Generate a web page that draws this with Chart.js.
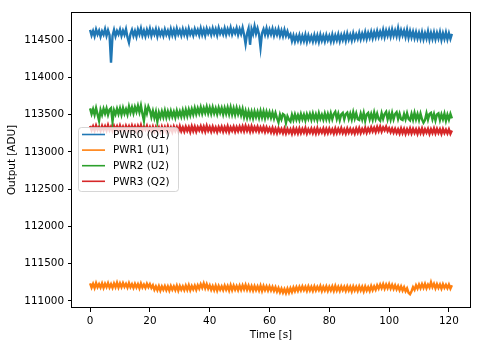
<!DOCTYPE html>
<html>
<head>
<meta charset="utf-8">
<script src="https://cdn.jsdelivr.net/npm/chart.js@4.4.0/dist/chart.umd.min.js"></script>
<style>
  html, body { margin: 0; padding: 0; background: #fff; }
  #wrap { width: 480px; height: 347px; }
</style>
</head>
<body>
<div id="wrap"><canvas id="outputChart" width="480" height="347"></canvas></div>
<script>
// sampling: one value every half second, from 0 to 121 s
var sampleStep = 0.5;

var seriesNames = ['PWR0 (Q1)', 'PWR1 (U1)', 'PWR2 (U2)', 'PWR3 (Q2)'];
var seriesColors = ['#1f77b4', '#ff7f0e', '#2ca02c', '#d62728'];

var pwr0 = [
  114640, 114565, 114625, 114555, 114645, 114580, 114630, 114550, 114620, 114575,
  114650, 114560, 114635, 114570, 114200, 114560, 114640, 114555, 114625, 114580,
  114645, 114560, 114630, 114575, 114650, 114540, 114470, 114585, 114640, 114560,
  114625, 114550, 114645, 114580, 114660, 114565, 114630, 114555, 114640, 114575,
  114655, 114560, 114635, 114580, 114650, 114555, 114640, 114570, 114625, 114560,
  114645, 114575, 114630, 114555, 114650, 114570, 114640, 114560, 114655, 114580,
  114635, 114565, 114650, 114575, 114640, 114560, 114655, 114580, 114630, 114565,
  114650, 114585, 114640, 114570, 114660, 114575, 114645, 114565, 114655, 114590,
  114645, 114575, 114660, 114585, 114650, 114570, 114665, 114590, 114640, 114580,
  114660, 114575, 114650, 114590, 114670, 114580, 114645, 114595, 114665, 114575,
  114650, 114585, 114670, 114575, 114450, 114590, 114660, 114440, 114650, 114585,
  114690, 114590, 114660, 114580, 114400, 114595, 114650, 114575, 114660, 114570,
  114645, 114580, 114655, 114565, 114640, 114575, 114650, 114560, 114630, 114555,
  114640, 114560, 114620, 114545, 114580, 114490, 114565, 114485, 114560, 114495,
  114570, 114485, 114560, 114490, 114575, 114480, 114565, 114495, 114555, 114485,
  114570, 114490, 114565, 114480, 114575, 114495, 114560, 114485, 114570, 114500,
  114560, 114485, 114575, 114490, 114565, 114500, 114580, 114490, 114570, 114505,
  114580, 114495, 114590, 114510, 114575, 114500, 114595, 114515, 114580, 114520,
  114600, 114515, 114590, 114525, 114610, 114520, 114600, 114535, 114615, 114530,
  114610, 114540, 114625, 114545, 114615, 114550, 114640, 114545, 114630, 114560,
  114635, 114550, 114645, 114560, 114630, 114555, 114660, 114550, 114635, 114565,
  114630, 114545, 114640, 114535, 114625, 114540, 114615, 114530, 114610, 114525,
  114600, 114520, 114610, 114515, 114595, 114525, 114620, 114510, 114600, 114520,
  114605, 114515, 114600, 114525, 114610, 114505, 114595, 114520, 114605, 114515,
  114595, 114520, 114585
];

var pwr1 = [
  111235, 111180, 111230, 111175, 111240, 111185, 111225, 111180, 111235, 111175,
  111230, 111185, 111240, 111180, 111225, 111175, 111235, 111185, 111245, 111180,
  111235, 111185, 111240, 111190, 111230, 111180, 111240, 111185, 111225, 111175,
  111230, 111180, 111225, 111170, 111235, 111180, 111220, 111175, 111230, 111185,
  111225, 111175, 111210, 111150, 111195, 111145, 111200, 111140, 111195, 111150,
  111200, 111145, 111195, 111140, 111200, 111150, 111195, 111145, 111205, 111140,
  111200, 111150, 111195, 111145, 111205, 111150, 111210, 111145, 111200, 111155,
  111205, 111150, 111210, 111165, 111225, 111175, 111235, 111170, 111225, 111165,
  111210, 111150, 111200, 111145, 111205, 111140, 111200, 111150, 111195, 111145,
  111205, 111150, 111200, 111140, 111210, 111145, 111205, 111150, 111200, 111145,
  111205, 111150, 111210, 111155, 111215, 111150, 111205, 111145, 111200, 111140,
  111200, 111145, 111195, 111140, 111205, 111135, 111200, 111145, 111195, 111140,
  111195, 111140, 111190, 111135, 111185, 111125, 111175, 111115, 111165, 111110,
  111160, 111105, 111165, 111110, 111170, 111120, 111180, 111130, 111185, 111135,
  111190, 111140, 111195, 111145, 111190, 111135, 111195, 111140, 111190, 111135,
  111195, 111140, 111190, 111145, 111200, 111135, 111190, 111140, 111195, 111135,
  111190, 111140, 111195, 111135, 111200, 111140, 111190, 111135, 111195, 111145,
  111190, 111135, 111195, 111140, 111190, 111130, 111195, 111140, 111190, 111135,
  111195, 111140, 111190, 111130, 111195, 111140, 111185, 111135, 111200, 111145,
  111195, 111150, 111210, 111165, 111220, 111170, 111225, 111165, 111220, 111170,
  111225, 111165, 111215, 111160, 111210, 111155, 111200, 111145, 111195, 111140,
  111185, 111130, 111170, 111110, 111090, 111130, 111185, 111150, 111210, 111165,
  111220, 111170, 111225, 111175, 111230, 111170, 111220, 111180, 111250, 111185,
  111230, 111170, 111225, 111175, 111220, 111165, 111225, 111175, 111215, 111170,
  111220, 111165, 111210
];

var pwr2 = [
  113585, 113510, 113575, 113500, 113590, 113505, 113420, 113565, 113500, 113580,
  113515, 113585, 113500, 113570, 113590, 113410, 113560, 113505, 113580, 113510,
  113585, 113500, 113590, 113515, 113575, 113505, 113610, 113530, 113600, 113520,
  113605, 113540, 113620, 113535, 113625, 113515, 113420, 113590, 113520, 113610,
  113560, 113470, 113550, 113460, 113540, 113410, 113530, 113465, 113545, 113470,
  113555, 113465, 113545, 113470, 113550, 113475, 113540, 113465, 113555, 113480,
  113545, 113475, 113560, 113480, 113565, 113485, 113570, 113495, 113575, 113505,
  113590, 113510, 113585, 113520, 113600, 113515, 113590, 113525, 113605, 113520,
  113595, 113515, 113600, 113520, 113585, 113510, 113595, 113525, 113590, 113505,
  113590, 113515, 113595, 113510, 113600, 113505, 113585, 113500, 113590, 113510,
  113580, 113495, 113575, 113470, 113550, 113460, 113545, 113465, 113540, 113455,
  113545, 113470, 113540, 113460, 113550, 113465, 113545, 113455, 113540, 113470,
  113535, 113460, 113530, 113450, 113525, 113455, 113400, 113500, 113440, 113510,
  113495, 113390, 113480, 113435, 113410, 113500, 113430, 113505, 113435, 113495,
  113430, 113510, 113440, 113500, 113425, 113505, 113445, 113510, 113435, 113515,
  113440, 113505, 113430, 113520, 113445, 113500, 113435, 113515, 113440, 113510,
  113435, 113520, 113440, 113510, 113540, 113445, 113515, 113430, 113505, 113525,
  113440, 113510, 113530, 113445, 113515, 113440, 113535, 113450, 113520, 113440,
  113430, 113515, 113440, 113525, 113420, 113505, 113525, 113440, 113510, 113435,
  113530, 113445, 113515, 113440, 113420, 113520, 113445, 113510, 113540, 113440,
  113515, 113435, 113525, 113440, 113510, 113535, 113445, 113515, 113440, 113430,
  113510, 113440, 113520, 113445, 113425, 113510, 113435, 113525, 113440, 113510,
  113430, 113515, 113440, 113395, 113430, 113520, 113435, 113510, 113525, 113440,
  113510, 113425, 113505, 113520, 113430, 113505, 113440, 113515, 113420, 113500,
  113435, 113510, 113450
];

var pwr3 = [
  113350, 113295, 113345, 113290, 113355, 113300, 113340, 113285, 113350, 113295,
  113345, 113290, 113360, 113295, 113340, 113285, 113350, 113300, 113345, 113290,
  113355, 113295, 113340, 113285, 113350, 113300, 113345, 113290, 113355, 113295,
  113345, 113285, 113350, 113295, 113360, 113290, 113340, 113300, 113350, 113285,
  113335, 113280, 113340, 113275, 113335, 113285, 113330, 113270, 113340, 113280,
  113335, 113275, 113345, 113280, 113330, 113270, 113340, 113285, 113335, 113275,
  113345, 113280, 113330, 113275, 113340, 113285, 113335, 113270, 113345, 113280,
  113340, 113275, 113335, 113290, 113345, 113280, 113340, 113275, 113350, 113285,
  113335, 113275, 113340, 113280, 113330, 113270, 113335, 113285, 113340, 113275,
  113335, 113280, 113345, 113270, 113330, 113285, 113340, 113275, 113335, 113280,
  113340, 113285, 113345, 113280, 113350, 113285, 113340, 113275, 113345, 113280,
  113335, 113285, 113340, 113275, 113330, 113280, 113335, 113270, 113330, 113275,
  113320, 113265, 113325, 113260, 113315, 113255, 113320, 113265, 113310, 113255,
  113315, 113250, 113310, 113260, 113305, 113245, 113315, 113255, 113310, 113250,
  113315, 113255, 113310, 113260, 113320, 113250, 113305, 113260, 113315, 113255,
  113310, 113250, 113320, 113255, 113305, 113260, 113315, 113250, 113310, 113255,
  113315, 113260, 113305, 113250, 113315, 113255, 113310, 113260, 113320, 113255,
  113305, 113250, 113315, 113260, 113310, 113255, 113305, 113250, 113315, 113260,
  113320, 113255, 113310, 113265, 113325, 113260, 113315, 113270, 113330, 113275,
  113325, 113270, 113335, 113280, 113340, 113275, 113330, 113290, 113340, 113280,
  113320, 113265, 113315, 113260, 113310, 113255, 113305, 113250, 113315, 113255,
  113310, 113245, 113305, 113255, 113315, 113250, 113310, 113255, 113305, 113245,
  113310, 113255, 113315, 113250, 113305, 113260, 113310, 113245, 113305, 113255,
  113315, 113250, 113310, 113255, 113305, 113245, 113310, 113255, 113300, 113250,
  113305, 113245, 113290
];

var seriesValues = [pwr0, pwr1, pwr2, pwr3];

var xTicks = [0, 20, 40, 60, 80, 100, 120];
var yTicks = [111000, 111500, 112000, 112500, 113000, 113500, 114000, 114500];

var fontFamily = "'DejaVu Sans', sans-serif";
var fontSize = 10.4;

Chart.defaults.color = '#000';
Chart.defaults.font.family = fontFamily;
Chart.defaults.font.size = fontSize;

function toPoints(values) {
    return values.map(function (v, i) {
        return { x: i * sampleStep, y: v };
    });
}

// box round the plot, like the matplotlib axes frame
var frame = {
    id: 'frame',
    afterDraw: function (chart) {
        var a = chart.chartArea;
        var ctx = chart.ctx;
        ctx.save();
        ctx.strokeStyle = '#000';
        ctx.lineWidth = 1;
        ctx.strokeRect(Math.round(a.left) - 0.5, Math.round(a.top) + 0.5,
            Math.round(a.right - a.left) + 1, Math.round(a.bottom - a.top) - 1);
        ctx.restore();
    }
};

// legend drawn inside the axes, semi-transparent white box
var innerLegend = {
    id: 'innerLegend',
    afterDatasetsDraw: function (chart) {
        var ctx = chart.ctx;
        var bx = 78.5, by = 127.5, bw = 100, bh = 64, r = 3;
        ctx.save();
        ctx.beginPath();
        ctx.moveTo(bx + r, by);
        ctx.lineTo(bx + bw - r, by);
        ctx.arcTo(bx + bw, by, bx + bw, by + r, r);
        ctx.lineTo(bx + bw, by + bh - r);
        ctx.arcTo(bx + bw, by + bh, bx + bw - r, by + bh, r);
        ctx.lineTo(bx + r, by + bh);
        ctx.arcTo(bx, by + bh, bx, by + bh - r, r);
        ctx.lineTo(bx, by + r);
        ctx.arcTo(bx, by, bx + r, by, r);
        ctx.closePath();
        ctx.fillStyle = 'rgba(255,255,255,0.8)';
        ctx.fill();
        ctx.strokeStyle = 'rgba(204,204,204,0.8)';
        ctx.lineWidth = 1;
        ctx.stroke();

        ctx.font = fontSize + 'px ' + fontFamily;
        ctx.textBaseline = 'middle';
        ctx.textAlign = 'left';
        for (var i = 0; i < seriesNames.length; i++) {
            var ry = 134.5 + i * 15.6;
            ctx.strokeStyle = seriesColors[i];
            ctx.lineWidth = 1.6;
            ctx.beginPath();
            ctx.moveTo(82, ry);
            ctx.lineTo(105, ry);
            ctx.stroke();
            ctx.fillStyle = '#000';
            ctx.fillText(seriesNames[i], 113, ry + 0.5);
        }
        ctx.restore();
    }
};

var ctxOut = document.getElementById('outputChart').getContext('2d');
var chartOut = new Chart(ctxOut, {
    type: 'line',
    data: {
        datasets: seriesValues.map(function (vals, i) {
            return {
                label: seriesNames[i],
                data: toPoints(vals),
                borderColor: seriesColors[i],
                backgroundColor: seriesColors[i],
                borderWidth: 2.4,
                pointRadius: 0,
                tension: 0,
                fill: false
            };
        })
    },
    options: {
        responsive: false,
        animation: false,
        events: [],
        layout: { padding: { left: 0, right: 10, top: 12, bottom: 0 } },
        plugins: {
            legend: { display: false },
            tooltip: { enabled: false }
        },
        scales: {
            x: {
                type: 'linear',
                min: -6.05,
                max: 127.05,
                afterFit: function (scale) { scale.height = 39; },
                afterBuildTicks: function (scale) {
                    scale.ticks = xTicks.map(function (v) { return { value: v }; });
                },
                ticks: { padding: 3, maxRotation: 0, autoSkip: false, color: '#000' },
                grid: { drawOnChartArea: false, drawTicks: true, tickLength: 4, color: '#000', tickWidth: 1 },
                border: { display: false },
                title: { display: true, text: 'Time [s]', color: '#000', padding: { top: 0, bottom: 5 } }
            },
            y: {
                type: 'linear',
                min: 110905,
                max: 114880,
                afterFit: function (scale) { scale.width = 72; },
                afterBuildTicks: function (scale) {
                    scale.ticks = yTicks.map(function (v) { return { value: v }; });
                },
                ticks: {
                    padding: 4,
                    autoSkip: false,
                    color: '#000',
                    callback: function (v) { return String(v); }
                },
                grid: { drawOnChartArea: false, drawTicks: true, tickLength: 4, color: '#000', tickWidth: 1 },
                border: { display: false },
                title: { display: true, text: 'Output [ADU]', color: '#000', padding: { top: 6, bottom: 0 } }
            }
        }
    },
    plugins: [frame, innerLegend]
});
</script>
</body>
</html>
